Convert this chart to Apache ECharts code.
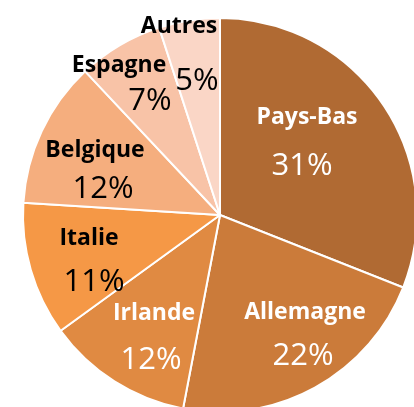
<!DOCTYPE html>
<html>
<head>
<meta charset="utf-8">
<script src="https://cdn.jsdelivr.net/npm/echarts@6/dist/echarts.min.js"></script>
<style>
html,body{margin:0;padding:0;background:#fff;}
#chart{width:414px;height:407px;}
</style>
</head>
<body>
<div id="chart"></div>
<script>
// Data
const categories = ['Pays-Bas', 'Allemagne', 'Irlande', 'Italie', 'Belgique', 'Espagne', 'Autres'];
const shares = [31, 22, 12, 11, 12, 7, 5];

// Styles
const sliceColors = ['#B06A33', '#CB7B3A', '#E08A42', '#F59846', '#F5AE7E', '#F8C3A7', '#FAD6C6'];
const labelColors = ['#ffffff', '#ffffff', '#ffffff', '#000000', '#000000', '#000000', '#000000'];
// label centres (name / percent) in px
const namePos = [[307, 114], [305, 309], [154, 310], [89, 235], [95, 147], [119, 62], [179, 23]];
const pctPos = [[302, 163], [303, 353], [151, 357], [94, 279], [103, 186], [150, 98], [197, 78]];

const FONT = '"Open Sans", "Liberation Sans", sans-serif';

const chart = echarts.init(document.getElementById('chart'), null, {renderer: 'canvas'});

const pieData = categories.map((c, i) => ({
  name: c,
  value: shares[i],
  itemStyle: {color: sliceColors[i]},
  label: {color: labelColors[i]}
}));
const pieDataPct = categories.map((c, i) => ({
  name: c,
  value: shares[i],
  label: {color: labelColors[i]}
}));

const common = {
  type: 'pie',
  center: [220, 215],
  radius: 197,
  startAngle: 90,
  clockwise: true,
  percentPrecision: 0,
  avoidLabelOverlap: false,
  animation: false,
  emphasis: {disabled: true},
  labelLine: {show: false}
};

chart.setOption({
  animation: false,
  series: [
    Object.assign({}, common, {
      name: 'noms',
      data: pieData,
      itemStyle: {borderColor: '#ffffff', borderWidth: 2},
      label: {
        show: true, position: 'inside', formatter: '{b}',
        fontFamily: FONT, fontWeight: 'bold', fontSize: 23
      },
      labelLayout: function (p) {
        const q = namePos[p.dataIndex];
        return {x: q[0], y: q[1] + 3, align: 'center', verticalAlign: 'middle'};
      }
    }),
    Object.assign({}, common, {
      name: 'pourcentages',
      data: pieDataPct,
      silent: true,
      z: 5,
      itemStyle: {color: 'rgba(0,0,0,0)', borderWidth: 0},
      label: {
        show: true, position: 'inside', formatter: '{d}%',
        fontFamily: FONT, fontWeight: 'normal', fontSize: 31
      },
      labelLayout: function (p) {
        const q = pctPos[p.dataIndex];
        return {x: q[0], y: q[1] + 3, align: 'center', verticalAlign: 'middle'};
      }
    })
  ]
});
</script>
</body>
</html>
